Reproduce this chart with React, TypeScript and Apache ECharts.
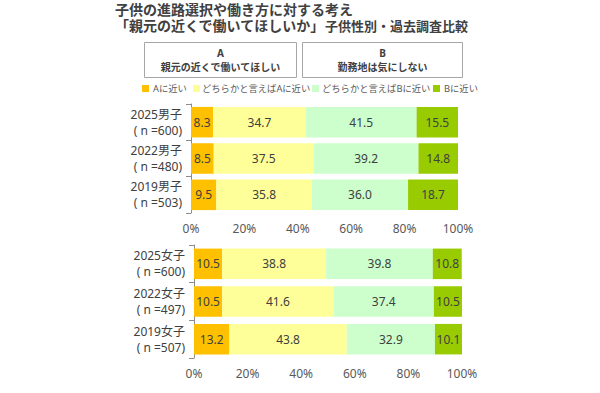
import React, { useEffect, useRef } from "react";
import * as echarts from "echarts";

const titleLine1 = "子供の進路選択や働き方に対する考え";
const titleLine2a = "「親元の近くで働いてほしいか」";
const titleLine2b = "子供性別・過去調査比較";
const boxA = ["A", "親元の近くで働いてほしい"];
const boxB = ["B", "勤務地は気にしない"];
const seriesNames = ["Aに近い", "どちらかと言えばAに近い", "どちらかと言えばBに近い", "Bに近い"];
const seriesColors = ["#FFC000", "#FFFF99", "#CCFFCC", "#99CC00"];

const maleCats = ["2025男子\n( n =600)", "2022男子\n( n =480)", "2019男子\n( n =503)"];
const maleA = [8.3, 8.5, 9.5];
const maleSomeA = [34.7, 37.5, 35.8];
const maleSomeB = [41.5, 39.2, 36.0];
const maleB = [15.5, 14.8, 18.7];

const femaleCats = ["2025女子\n( n =600)", "2022女子\n( n =497)", "2019女子\n( n =507)"];
const femaleA = [10.5, 10.5, 13.2];
const femaleSomeA = [38.8, 41.6, 43.8];
const femaleSomeB = [39.8, 37.4, 32.9];
const femaleB = [10.8, 10.5, 10.1];

const FONT = "'Noto Sans', 'Noto Sans CJK JP', sans-serif";
const legendSquareX = [142, 193, 312, 433];
const legendTextX = [153, 202, 322, 444];

export default function App() {
  const ref = useRef<HTMLDivElement>(null);
  useEffect(() => {
    if (!ref.current) return;
    const chart = echarts.init(ref.current, undefined, { renderer: "svg" });
    const maleData = [maleA, maleSomeA, maleSomeB, maleB];
    const femaleData = [femaleA, femaleSomeA, femaleSomeB, femaleB];
    const mkSeries = (data: number[][], idx: number, gap: string) =>
      data.map((vals, i) => ({
        name: seriesNames[i],
        type: "bar",
        stack: "s" + idx,
        xAxisIndex: idx,
        yAxisIndex: idx,
        barCategoryGap: gap,
        itemStyle: { color: seriesColors[i] },
        label: {
          show: true,
          position: "inside",
          color: "#404040",
          fontSize: 12,
          fontFamily: FONT,
          formatter: (p: any) => Number(p.value).toFixed(1),
        },
        data: vals,
      }));
    const yAxisBase = (cats: string[], idx: number) => ({
      type: "category",
      gridIndex: idx,
      inverse: true,
      data: cats,
      axisLine: { show: true, lineStyle: { color: "#8c8c8c" } },
      axisTick: { show: true, length: 5, lineStyle: { color: "#8c8c8c" } },
      axisLabel: {
        color: "#404040",
        fontSize: 12,
        fontFamily: FONT,
        lineHeight: 16,
        align: "right",
        margin: 9,
      },
    });
    const xAxisBase = (idx: number) => ({
      type: "value",
      gridIndex: idx,
      min: 0,
      max: 100,
      interval: 20,
      splitLine: { show: false },
      axisLine: { show: false },
      axisTick: { show: false },
      axisLabel: {
        color: "#595959",
        fontSize: 12,
        fontFamily: FONT,
        margin: 9,
        formatter: "{value}%",
      },
    });
    const titleStyle = { fontSize: 14, fontWeight: "bold", fill: "#404040", fontFamily: FONT, verticalAlign: "middle" };
    const legendGraphics: any[] = [];
    seriesNames.forEach((n, i) => {
      legendGraphics.push({
        type: "rect",
        shape: { x: legendSquareX[i], y: 85, width: 7, height: 7 },
        style: { fill: seriesColors[i] },
      });
      legendGraphics.push({
        type: "text",
        x: legendTextX[i],
        y: 88.5,
        style: { text: n, fontSize: 9.3, fill: "#595959", fontFamily: FONT, verticalAlign: "middle" },
      });
    });
    chart.setOption({
      animation: false,
      backgroundColor: "#ffffff",
      textStyle: { fontFamily: FONT },
      grid: [
        { left: 191, width: 267, top: 104, height: 109 },
        { left: 194, width: 268, top: 245, height: 113 },
      ],
      xAxis: [xAxisBase(0), xAxisBase(1)],
      yAxis: [yAxisBase(maleCats, 0), yAxisBase(femaleCats, 1)],
      graphic: [
        { type: "text", x: 115, y: 9.5, style: { ...titleStyle, text: titleLine1 } },
        { type: "text", x: 115, y: 25.5, style: { ...titleStyle, text: titleLine2a } },
        { type: "text", x: 468, y: 25.5, style: { ...titleStyle, fontSize: 13, align: "right", text: titleLine2b } },
        {
          type: "rect",
          shape: { x: 144.5, y: 42.5, width: 152, height: 35 },
          style: { fill: "#ffffff", stroke: "#a6a6a6", lineWidth: 1 },
        },
        {
          type: "rect",
          shape: { x: 302.5, y: 42.5, width: 160, height: 35 },
          style: { fill: "#ffffff", stroke: "#a6a6a6", lineWidth: 1 },
        },
        {
          type: "text",
          x: 220.5,
          y: 60,
          style: {
            text: boxA.join("\n"),
            fontSize: 10,
            lineHeight: 14,
            fontWeight: "bold",
            fill: "#404040",
            fontFamily: FONT,
            align: "center",
            verticalAlign: "middle",
          },
        },
        {
          type: "text",
          x: 382.5,
          y: 60,
          style: {
            text: boxB.join("\n"),
            fontSize: 10,
            lineHeight: 14,
            fontWeight: "bold",
            fill: "#404040",
            fontFamily: FONT,
            align: "center",
            verticalAlign: "middle",
          },
        },
        ...legendGraphics,
      ],
      series: [...mkSeries(maleData, 0, "16%"), ...mkSeries(femaleData, 1, "19%")],
    });
    return () => chart.dispose();
  }, []);
  return (
    <div
      ref={ref}
      style={{ position: "fixed", left: 0, top: 0, width: 600, height: 393, background: "#fff" }}
    />
  );
}
